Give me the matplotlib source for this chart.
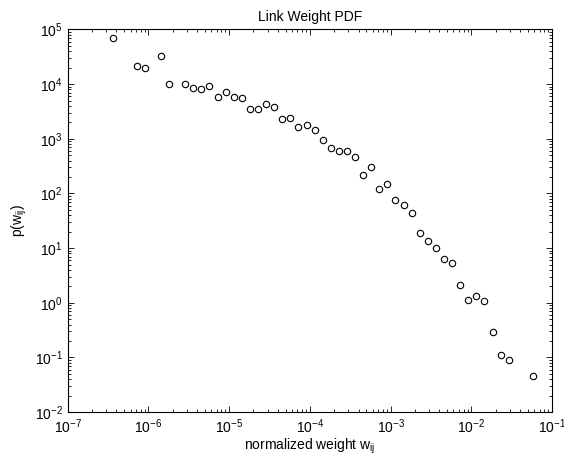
import matplotlib
matplotlib.use('Agg')
from matplotlib import pyplot as plt
from matplotlib.ticker import LogLocator, NullFormatter

plt.rcParams['font.family'] = ['Liberation Sans', 'DejaVu Sans']
plt.rcParams['mathtext.fontset'] = 'custom'
plt.rcParams['mathtext.rm'] = 'Liberation Sans'
plt.rcParams['mathtext.it'] = 'Liberation Sans:italic'
plt.rcParams['mathtext.default'] = 'regular'

# normalized link weight (bin centres)
weight = [3.6e-7, 7.15e-7, 8.97e-7, 1.43e-6, 1.81e-6, 2.86e-6, 3.59e-6,
          4.51e-6, 5.66e-6, 7.19e-6, 9.03e-6, 1.135e-5, 1.44e-5, 1.81e-5,
          2.27e-5, 2.85e-5, 3.58e-5, 4.54e-5, 5.70e-5, 7.16e-5, 9.10e-5,
          1.14e-4, 1.44e-4, 1.80e-4, 2.29e-4, 2.87e-4, 3.61e-4, 4.53e-4,
          5.74e-4, 7.21e-4, 9.06e-4, 1.14e-3, 1.45e-3, 1.82e-3, 2.30e-3,
          2.89e-3, 3.63e-3, 4.56e-3, 5.78e-3, 7.26e-3, 9.12e-3, 1.15e-2,
          1.44e-2, 1.83e-2, 2.30e-2, 2.88e-2, 5.77e-2]
# probability density
pdf = [7.1e4, 2.16e4, 1.99e4, 3.25e4, 1.0e4, 1.0e4, 8550,
       8000, 9180, 5700, 7130, 5700, 5610, 3440,
       3480, 4310, 3740, 2320, 2390, 1610, 1780,
       1440, 957, 665, 594, 586, 468, 216,
       303, 121, 150, 75.5, 61.1, 44.2, 19.1,
       13.4, 10.0, 6.21, 5.38, 2.13, 1.13, 1.36,
       1.07, 0.287, 0.112, 0.0893, 0.045]

fig = plt.figure(figsize=(5.64, 4.59), dpi=100)
ax = fig.add_axes([0.120, 0.102, 0.859, 0.834])

ax.loglog(weight, pdf, 'o', markerfacecolor='none', markeredgecolor='black',
          markersize=4.6, markeredgewidth=0.8)

ax.set_xlim(1e-7, 1e-1)
ax.set_ylim(1e-2, 1e5)
ax.xaxis.set_major_locator(LogLocator(base=10, numticks=20))
ax.yaxis.set_major_locator(LogLocator(base=10, numticks=20))
ax.xaxis.set_minor_locator(LogLocator(base=10, subs=range(2, 10), numticks=100))
ax.yaxis.set_minor_locator(LogLocator(base=10, subs=range(2, 10), numticks=100))
ax.xaxis.set_minor_formatter(NullFormatter())
ax.yaxis.set_minor_formatter(NullFormatter())

ax.tick_params(which='both', direction='in', top=True, right=True,
               labelsize=10, width=0.6)
ax.tick_params(which='major', length=4)
ax.tick_params(which='minor', length=2)
for s in ax.spines.values():
    s.set_linewidth(0.8)

ax.set_title('Link Weight PDF', fontsize=10, pad=6)
ax.set_xlabel('normalized weight w$_{ij}$', fontsize=10, labelpad=1)
ax.set_ylabel('p(w$_{ij}$)', fontsize=10, labelpad=4)

fig.savefig('out.png', dpi=100)
